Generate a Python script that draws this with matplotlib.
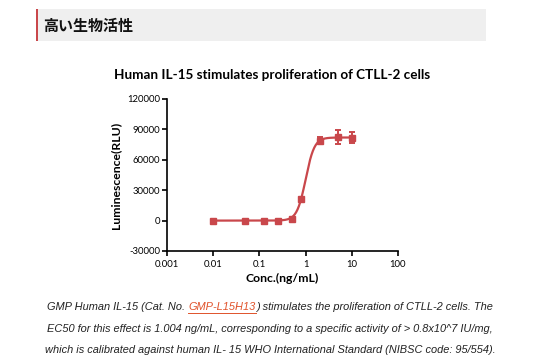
import numpy as np
import matplotlib
matplotlib.use("Agg")
import matplotlib.pyplot as plt
from matplotlib.patches import Rectangle

plt.rcParams["font.family"] = ["Lato", "DejaVu Sans"]

# data
conc = [0.01, 0.05, 0.125, 0.25, 0.5, 0.8, 2, 5, 10]
rlu = [0, 0, 0, 0, 2000, 21300, 79000, 82500, 82000]
rlu_err = [600, 600, 600, 600, 800, 1200, 3500, 6500, 5000]

# 4PL fit shown as the curve
fit_bottom = 0
fit_top = 82000
fit_ec50 = 1.004
fit_hill = 4.6

x_ticks = [0.001, 0.01, 0.1, 1, 10, 100]
x_labels = ["0.001", "0.01", "0.1", "1", "10", "100"]
y_ticks = [-30000, 0, 30000, 60000, 90000, 120000]

caption_lines = [
    ("GMP Human IL-15 (Cat. No. ", "GMP-L15H13",
     ") stimulates the proliferation of CTLL-2 cells. The"),
    ("EC50 for this effect is 1.004 ng/mL, corresponding to a specific activity of > 0.8x10^7 IU/mg,", "", ""),
    ("which is calibrated against human IL- 15 WHO International Standard (NIBSC code: 95/554).", "", ""),
]

red = "#c9474b"
W, H = 540, 360

fig = plt.figure(figsize=(5.4, 3.6), dpi=100)
fig.patch.set_facecolor("white")

# header band
fig.patches.append(Rectangle((36 / W, 1 - 41 / H), 450 / W, 32 / H,
                             transform=fig.transFigure, facecolor="#efefef",
                             edgecolor="none"))
fig.patches.append(Rectangle((36 / W, 1 - 41 / H), 2 / W, 32 / H,
                             transform=fig.transFigure, facecolor="#c9474b",
                             edgecolor="none"))
fig.text(43 / W, 1 - 25.5 / H, "高い生物活性", fontsize=10.8, fontweight="bold",
         family=["Noto Sans CJK JP", "DejaVu Sans"], va="center", ha="left",
         color="#111111")

ax = fig.add_axes([167 / W, 1 - 251 / H, 231 / W, 152 / H])
ax.set_xscale("log")
ax.set_xlim(0.001, 100)
ax.set_ylim(-30000, 120000)

xs = np.logspace(np.log10(0.01), np.log10(10), 300)
ys = fit_bottom + (fit_top - fit_bottom) / (1 + (fit_ec50 / xs) ** fit_hill)
ax.plot(xs, ys, color=red, lw=1.6, zorder=2)
ax.errorbar(conc, rlu, yerr=rlu_err, fmt="s", color=red, ms=4.5,
            elinewidth=1.4, capsize=2.5, capthick=1.4, zorder=3)

for s in ["top", "right"]:
    ax.spines[s].set_visible(False)
for s in ["left", "bottom"]:
    ax.spines[s].set_linewidth(1.2)
ax.set_xticks(x_ticks)
ax.set_xticklabels(x_labels)
ax.xaxis.set_minor_locator(matplotlib.ticker.NullLocator())
ax.set_yticks(y_ticks)
ax.set_yticklabels([str(v) for v in y_ticks])
ax.tick_params(axis="both", direction="out", length=3.5, width=1.2,
               labelsize=6.8, pad=1.5, colors="black")
ax.tick_params(axis="x", pad=3)
ax.set_xlabel("Conc.(ng/mL)", fontsize=8.8, fontweight="bold", labelpad=3)
ax.set_ylabel("Luminescence(RLU)", fontsize=8.8, fontweight="bold", labelpad=4)

fig.text(272 / W, 1 - 75 / H, "Human IL-15 stimulates proliferation of CTLL-2 cells",
         fontsize=9.7, fontweight="bold", ha="center", va="center")

# caption, with the catalogue number drawn as a link
cap_font = dict(fontsize=7.9, style="italic", family=["Liberation Sans", "DejaVu Sans"],
                va="center")
cap_y = [307, 329, 350]
fig.canvas.draw()
renderer = fig.canvas.get_renderer()
for (a, link, b), yy in zip(caption_lines, cap_y):
    parts = [(a, "#222222"), (link, "#e0522a"), (b, "#222222")]
    parts = [p for p in parts if p[0]]
    widths = []
    for txt, col in parts:
        t = fig.text(0, 0, txt, **cap_font)
        widths.append(t.get_window_extent(renderer).width)
        t.remove()
    x0 = 270 - sum(widths) / 2
    for (txt, col), w in zip(parts, widths):
        fig.text(x0 / W, 1 - yy / H, txt, color=col, ha="left", **cap_font)
        if col == "#e0522a":
            fig.add_artist(plt.Line2D([x0 / W, (x0 + w) / W],
                                      [1 - (yy + 5.5) / H, 1 - (yy + 5.5) / H],
                                      transform=fig.transFigure, color=col, lw=0.7))
        x0 += w

fig.savefig("out.png", dpi=100)
